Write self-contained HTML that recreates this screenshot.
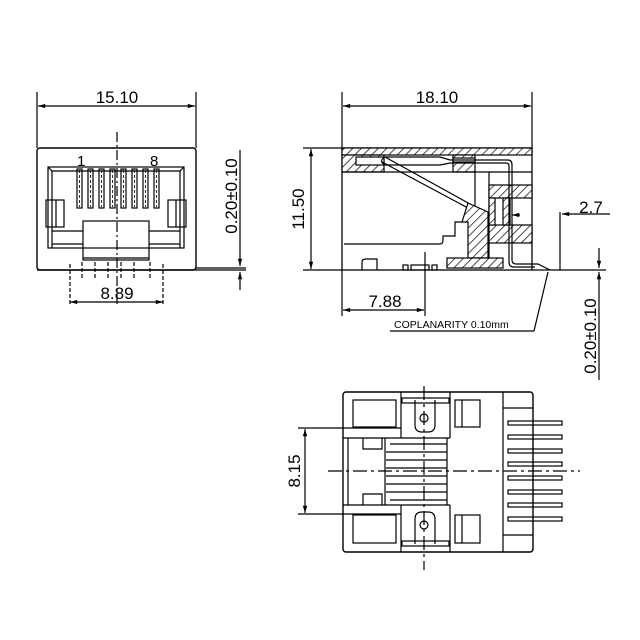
<!DOCTYPE html>
<html><head><style>html,body{margin:0;padding:0;background:#fff}svg{display:block}</style></head>
<body>
<svg width="640" height="640" viewBox="0 0 640 640" xmlns="http://www.w3.org/2000/svg" font-family="Liberation Sans, sans-serif">
<defs>
<pattern id="h" width="6" height="6" patternUnits="userSpaceOnUse" patternTransform="rotate(45)">
<rect width="6" height="6" fill="#fff"/><line x1="0" y1="0" x2="0" y2="6" stroke="#000" stroke-width="1.4"/></pattern>
<marker id="a" viewBox="0 0 10 10" refX="10" refY="5" markerWidth="8" markerHeight="6" orient="auto-start-reverse"><path d="M0,2 L10,5 L0,8z" fill="#000"/></marker>
</defs>
<g stroke="#000" fill="none" stroke-width="1.2">
<!-- FRONT VIEW -->
<line x1="37" y1="92" x2="37" y2="148"/><line x1="196" y1="92" x2="196" y2="148"/>
<line x1="38" y1="106" x2="195" y2="106" marker-start="url(#a)" marker-end="url(#a)"/>
<rect x="37" y="148" width="159" height="122" rx="3" stroke-width="1.4"/>
<rect x="48" y="167" width="136" height="81"/>
<polyline points="52,248 52,171 180,171 180,248"/>
<line x1="48" y1="167" x2="52" y2="171"/><line x1="184" y1="167" x2="180" y2="171"/>
<line x1="52" y1="231" x2="83" y2="231"/><line x1="52" y1="244" x2="83" y2="244"/>
<line x1="149" y1="231" x2="180" y2="231"/><line x1="149" y1="244" x2="180" y2="244"/>
<rect x="46" y="200" width="18" height="27"/><line x1="56" y1="200" x2="56" y2="227"/>
<rect x="168" y="200" width="18" height="27"/><line x1="176" y1="200" x2="176" y2="227"/>
<g>
<rect x="77" y="169" width="5" height="39"/><rect x="88" y="169" width="5" height="39"/><rect x="99" y="169" width="5" height="39"/><rect x="110" y="169" width="5" height="39"/><rect x="121" y="169" width="5" height="39"/><rect x="132" y="169" width="5" height="39"/><rect x="143" y="169" width="5" height="39"/><rect x="154" y="169" width="5" height="39"/>
</g>
<g stroke-dasharray="3,2" stroke-width="0.8">
<line x1="79.5" y1="170" x2="79.5" y2="207"/><line x1="90.5" y1="170" x2="90.5" y2="207"/><line x1="101.5" y1="170" x2="101.5" y2="207"/><line x1="112.5" y1="170" x2="112.5" y2="207"/><line x1="123.5" y1="170" x2="123.5" y2="207"/><line x1="134.5" y1="170" x2="134.5" y2="207"/><line x1="145.5" y1="170" x2="145.5" y2="207"/><line x1="156.5" y1="170" x2="156.5" y2="207"/>
</g>
<rect x="83" y="221" width="66" height="39"/>
<line x1="83" y1="258" x2="149" y2="258"/>
<line x1="117" y1="132" x2="117" y2="305" stroke-dasharray="10,3,2,3"/>
<line x1="37" y1="270" x2="246" y2="270"/>
<g stroke-dasharray="4,2">
<line x1="70" y1="264" x2="70" y2="306"/><line x1="82" y1="262" x2="82" y2="278"/><line x1="95" y1="262" x2="95" y2="278"/><line x1="108" y1="262" x2="108" y2="278"/><line x1="121" y1="262" x2="121" y2="278"/><line x1="134" y1="262" x2="134" y2="278"/><line x1="150" y1="262" x2="150" y2="278"/><line x1="163" y1="264" x2="163" y2="306"/>
</g>
<line x1="70" y1="302" x2="163" y2="302" marker-start="url(#a)" marker-end="url(#a)"/>
<line x1="196" y1="268" x2="246" y2="268"/>
<line x1="240" y1="150" x2="240" y2="266" marker-end="url(#a)"/>
<line x1="240" y1="290" x2="240" y2="272" marker-end="url(#a)"/>

<!-- SIDE VIEW -->
<line x1="342" y1="92" x2="342" y2="148"/><line x1="532" y1="92" x2="532" y2="148"/>
<line x1="343" y1="106" x2="531" y2="106" marker-start="url(#a)" marker-end="url(#a)"/>
<line x1="303" y1="148" x2="342" y2="148"/><line x1="303" y1="270" x2="342" y2="270"/>
<line x1="311" y1="149" x2="311" y2="269" marker-start="url(#a)" marker-end="url(#a)"/>
<rect x="342" y="148" width="190" height="122" stroke-width="1.3"/>
<rect x="342" y="148" width="190" height="7" fill="url(#h)"/>
<rect x="342" y="155" width="42" height="17" fill="url(#h)"/>
<rect x="356" y="157" width="28" height="8" fill="#fff"/>
<rect x="453" y="155" width="22" height="17" fill="url(#h)"/>
<rect x="453" y="158" width="22" height="4" fill="#fff"/>
<line x1="342" y1="172" x2="532" y2="172"/>
<line x1="475" y1="172" x2="475" y2="208"/><line x1="489" y1="172" x2="489" y2="258"/>
<rect x="489" y="185" width="43" height="13" fill="url(#h)"/>
<rect x="489" y="225" width="43" height="18" fill="url(#h)"/>
<rect x="489" y="198" width="6" height="27" fill="url(#h)"/>
<rect x="503" y="198" width="7" height="27" fill="url(#h)"/>
<line x1="520" y1="215" x2="512" y2="215" marker-end="url(#a)"/>
<path d="M385,157 L440,157 L450,160 L508,160 Q512,160 512,165 L512,260 Q512,264 516,264 L538,264 L550,270"/>
<path d="M385,165 L440,165 L450,163 L506,163 Q509,163 509,166 L509,262 Q509,267 514,267 L535,267"/>
<path d="M385,157 Q378,161 385,165"/>
<path d="M382,162 L468,208 M385,157 L470,204"/>
<path d="M468,203 L488,212 L488,258 L468,258 L468,222 L462,222 Z" fill="url(#h)"/>
<rect x="447" y="258" width="56" height="10" fill="url(#h)"/>
<path d="M344,244 L440,244 Q443,244 443,240 L443,236 L455,236 L455,222 L462,222"/>
<path d="M362,270 L362,262 Q362,259 366,259 L377,259 L377,270"/>
<rect x="403" y="265" width="5" height="5"/><rect x="411" y="265" width="18" height="5"/><rect x="432" y="265" width="5" height="5"/>
<line x1="425" y1="252" x2="425" y2="316"/>
<line x1="342" y1="270" x2="342" y2="316"/>
<line x1="343" y1="310" x2="424" y2="310" marker-start="url(#a)" marker-end="url(#a)"/>
<line x1="560" y1="212" x2="560" y2="270"/>
<line x1="610" y1="214" x2="562" y2="214" marker-end="url(#a)"/>
<line x1="532" y1="270" x2="606" y2="270"/>
<line x1="599" y1="248" x2="599" y2="268" marker-end="url(#a)"/>
<line x1="599" y1="380" x2="599" y2="272" marker-end="url(#a)"/>
<line x1="390" y1="331" x2="534" y2="331"/><line x1="534" y1="331" x2="548" y2="272"/>

<!-- BOTTOM VIEW -->
<rect x="343" y="392" width="190" height="160" rx="3" stroke-width="1.4"/>
<line x1="503" y1="392" x2="503" y2="552"/>
<line x1="503" y1="408" x2="533" y2="408"/><line x1="503" y1="535" x2="533" y2="535"/>
<rect x="353" y="400" width="43" height="27"/><rect x="353" y="515" width="43" height="28"/>
<rect x="455" y="400" width="25" height="27"/><line x1="462" y1="400" x2="462" y2="427"/>
<rect x="455" y="515" width="25" height="28"/><line x1="462" y1="515" x2="462" y2="543"/>
<line x1="401" y1="392" x2="401" y2="438"/><line x1="450" y1="392" x2="450" y2="438"/>
<line x1="401" y1="505" x2="401" y2="552"/><line x1="450" y1="505" x2="450" y2="552"/>
<rect x="402" y="398" width="47" height="5"/><rect x="402" y="541" width="47" height="5"/>
<path d="M415,400 L415,425 Q415,432 422,432 L428,432 Q435,432 435,425 L435,400"/>
<circle cx="424" cy="418" r="4"/>
<path d="M415,544 L415,519 Q415,512 422,512 L428,512 Q435,512 435,519 L435,544"/>
<circle cx="424" cy="525" r="4"/>
<path d="M343,438 L450,438 M343,505 L450,505 M348,438 L348,505"/>
<path d="M363,438 L363,449 L382,449 L382,438 M363,505 L363,494 L382,494 L382,505"/>
<line x1="447" y1="438" x2="447" y2="505"/>
<g>
<line x1="390" y1="444" x2="447" y2="444"/><line x1="386" y1="452" x2="447" y2="452"/><line x1="386" y1="460" x2="447" y2="460"/><line x1="386" y1="468" x2="447" y2="468"/><line x1="386" y1="476" x2="447" y2="476"/><line x1="386" y1="484" x2="447" y2="484"/><line x1="386" y1="492" x2="447" y2="492"/><line x1="390" y1="500" x2="447" y2="500"/>
</g>
<line x1="385" y1="438" x2="385" y2="505"/>
<g>
<rect x="508" y="421" width="54" height="4"/><rect x="508" y="435" width="54" height="4"/><rect x="508" y="449" width="54" height="4"/><rect x="508" y="462" width="54" height="4"/><rect x="508" y="476" width="54" height="4"/><rect x="508" y="490" width="54" height="4"/><rect x="508" y="503" width="54" height="4"/><rect x="508" y="517" width="54" height="4"/>
</g>
<line x1="328" y1="471" x2="580" y2="471" stroke-dasharray="14,4,3,4"/>
<line x1="424" y1="386" x2="424" y2="570" stroke-dasharray="14,4,3,4"/>
<line x1="298" y1="428" x2="401" y2="428"/><line x1="298" y1="514" x2="401" y2="514"/>
<line x1="305" y1="429" x2="305" y2="513" marker-start="url(#a)" marker-end="url(#a)"/>
</g>
<g fill="#000" font-size="17">
<text x="117" y="103" text-anchor="middle">15.10</text>
<text x="117" y="299" text-anchor="middle">8.89</text>
<text x="77" y="166" font-size="15">1</text>
<text x="150" y="166" font-size="15">8</text>
<text transform="translate(237,196) rotate(-90)" text-anchor="middle">0.20±0.10</text>
<text x="437" y="103" text-anchor="middle">18.10</text>
<text transform="translate(304,209) rotate(-90)" text-anchor="middle">11.50</text>
<text x="385" y="307" text-anchor="middle">7.88</text>
<text x="591" y="213" text-anchor="middle">2.7</text>
<text x="394" y="328" font-size="10.5">COPLANARITY  0.10mm</text>
<text transform="translate(596,336) rotate(-90)" text-anchor="middle">0.20±0.10</text>
<text transform="translate(300,471) rotate(-90)" text-anchor="middle">8.15</text>
</g>
</svg>
</body></html>
